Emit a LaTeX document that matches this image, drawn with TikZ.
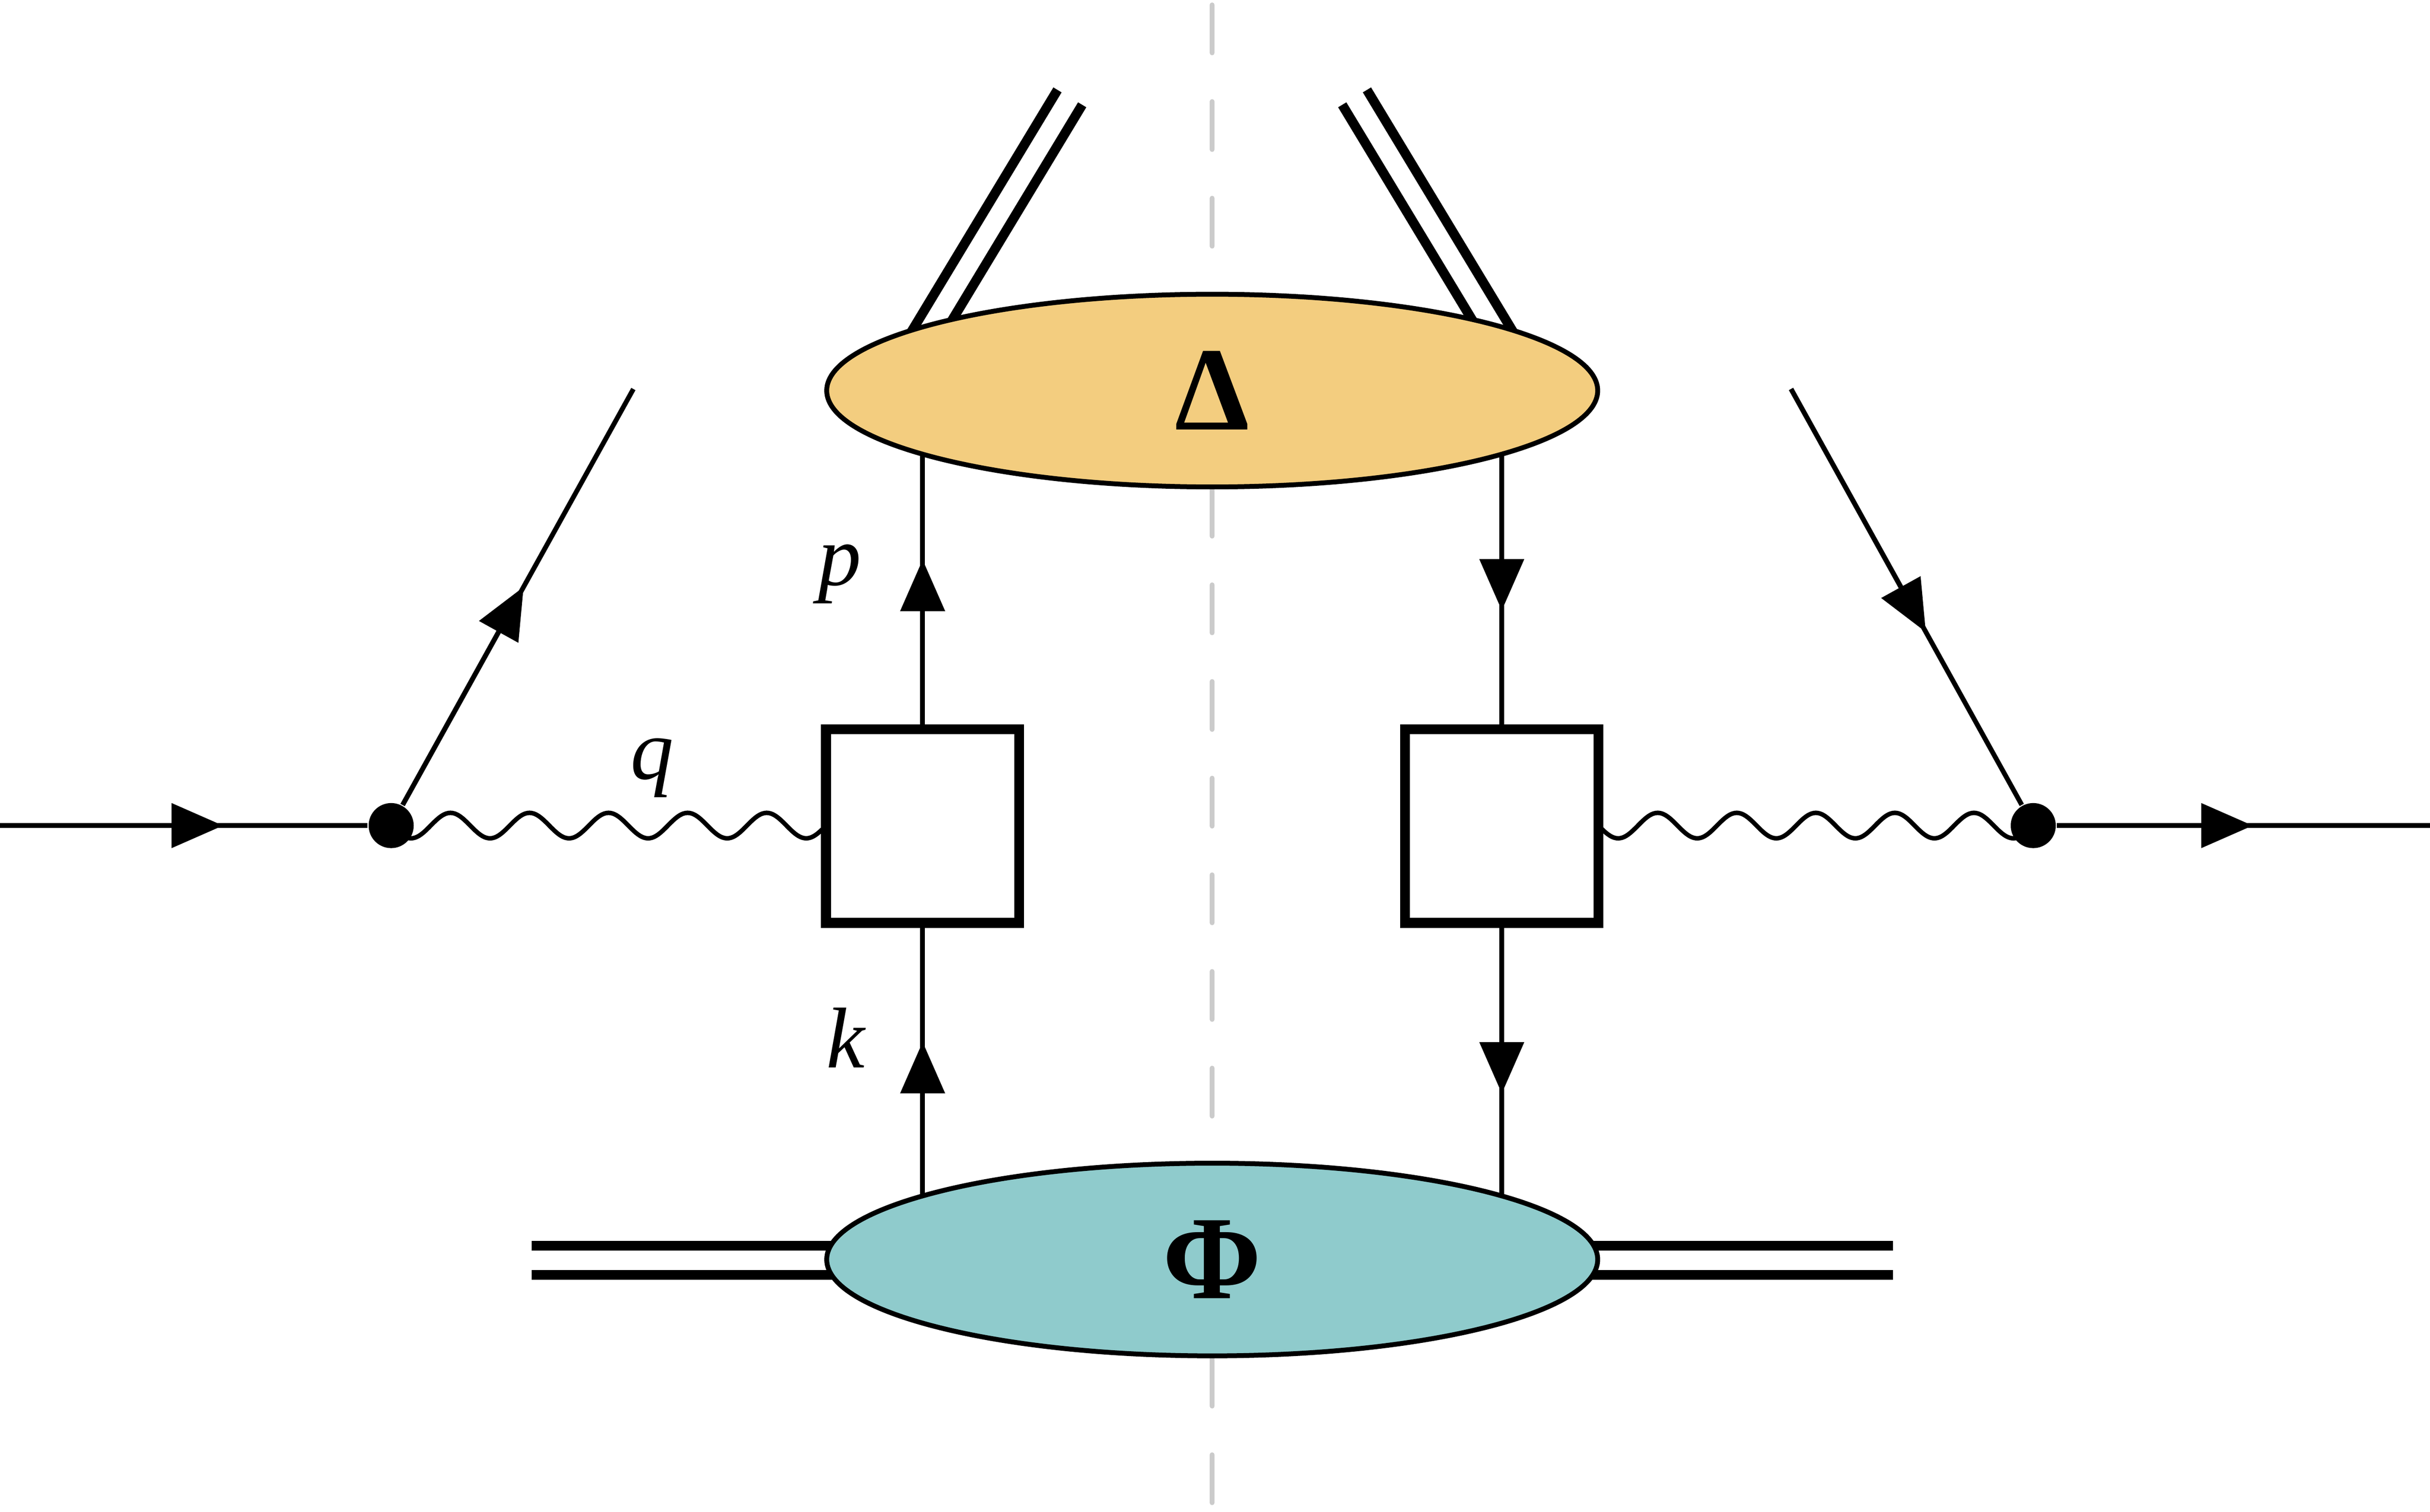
\documentclass[tikz,border=0pt]{standalone}
\usepackage{fontspec}
\setmainfont{Liberation Serif}
\usetikzlibrary{arrows.meta,shapes.geometric,backgrounds}
\definecolor{deltafill}{HTML}{F3CD7F}
\definecolor{phifill}{HTML}{8FCBCC}
\definecolor{cutgray}{HTML}{CBCBCB}
\tikzset{
  fline/.style={line width=0.88pt},
  farrow/.style={fline,-{Triangle[length=3.3mm,width=2.9mm,line width=0pt]}},
  photon/.style={line width=0.82pt},
  blob/.style={ellipse, draw, line width=0.89pt, minimum width=49.6mm, minimum height=12.4mm, inner sep=0pt, font=\fontsize{21.8pt}{26pt}\selectfont\bfseries},
  hardbox/.style={rectangle, draw, fill=white, line width=1.79pt, minimum width=12.44mm, minimum height=12.46mm, inner sep=0pt},
  vertexdot/.style={circle, fill=black, minimum size=2.9mm, inner sep=0pt},
  dbl/.style={line width=1.76pt},
  cut/.style={cutgray, line width=0.88pt, line cap=round, dash pattern=on 3.09mm off 3.13mm},
  mom/.style={font=\fontsize{15.8pt}{19pt}\selectfont\itshape, inner sep=0pt},
}
\begin{document}
\begin{tikzpicture}[x=0.01cm, y=-0.01cm]
\useasboundingbox (0,0) rectangle (1564.2,973.4);
% blobs and boxes
\node[blob, fill=deltafill] (D) at (780.3,251.5) {Δ};
\node[blob, fill=phifill] (F) at (780.3,811) {Φ};
\node[hardbox] (BL) at (593.9,531.9) {};
\node[hardbox] (BR) at (966.7,531.9) {};
\node[vertexdot] (VL) at (251.8,531.6) {};
\node[vertexdot] (VR) at (1308.8,531.6) {};
% coordinates
\coordinate (inL) at (0,531.6);
\coordinate (outR) at (1564.2,531.6);
\coordinate (eL) at (407.7,250.5);
\coordinate (eR) at (1152.9,250.5);
\coordinate (tipIn) at (143.5,531.6);
\coordinate (tipOut) at (1450.0,531.6);
\coordinate (tipLd) at (337.0,378.0);
\coordinate (tipRd) at (1239.6,406.9);
\coordinate (tipLu) at (593.9,360.5);
\coordinate (tipRu) at (966.7,393.0);
\coordinate (tipLk) at (593.9,671.0);
\coordinate (tipRk) at (966.7,704.0);
\coordinate (dLa) at (342.1,802.1);
\coordinate (dLb) at (342.1,820.9);
\coordinate (dRa) at (1218.5,802.1);
\coordinate (dRb) at (1218.5,820.9);
\coordinate (tLo) at (680.7,57.9);
\coordinate (tLoE) at (563.5,252);
\coordinate (tLi) at (696.6,67.5);
\coordinate (tLiE) at (585.2,252);
\coordinate (tRo) at (879.9,57.9);
\coordinate (tRoE) at (997.1,252);
\coordinate (tRi) at (864.0,67.5);
\coordinate (tRiE) at (975.4,252);
\begin{scope}[on background layer]
  \draw[cut] (780.3,3.15) -- (780.3,973.4);
  \draw[dbl] (dLa) -- (dLa -| F.center);
  \draw[dbl] (dLb) -- (dLb -| F.center);
  \draw[dbl] (dRa) -- (dRa -| F.center);
  \draw[dbl] (dRb) -- (dRb -| F.center);
  \draw[dbl] (tLo) -- (tLoE);
  \draw[dbl] (tLi) -- (tLiE);
  \draw[dbl] (tRo) -- (tRoE);
  \draw[dbl] (tRi) -- (tRiE);
  % quark lines
  \draw[fline] (BL.north) -- (BL.north |- D.center);
  \draw[farrow] (BL.north) -- (tipLu);
  \draw[fline] (BR.north |- D.center) -- (BR.north);
  \draw[farrow] (BR.north |- D.center) -- (tipRu);
  \draw[fline] (BL.south |- F.center) -- (BL.south);
  \draw[farrow] (BL.south |- F.center) -- (tipLk);
  \draw[fline] (BR.south) -- (BR.south |- F.center);
  \draw[farrow] (BR.south) -- (tipRk);
\end{scope}
% external lepton lines
\draw[fline] (inL) -- (VL);
\draw[farrow] (inL) -- (tipIn);
\draw[fline] (VR) -- (outR);
\draw[farrow] (VR) -- (tipOut);
\draw[fline] (VL) -- (eL);
\draw[farrow] (VL) -- (tipLd);
\draw[fline] (eR) -- (VR);
\draw[farrow] (eR) -- (tipRd);
% photons
\draw[photon] plot[domain=0:5.5, samples=221, smooth, variable=\t] ({251.8+\t*50.89}, {531.6+8.2*sin(\t*360)});
\draw[photon] plot[domain=0:5.5, samples=221, smooth, variable=\t] ({1308.8-\t*50.89}, {531.6+8.2*sin(\t*360)});
% labels
\node[mom] (lp) at (540.7,369.8) {p};
\node[mom] (lq) at (419.7,494.4) {q};
\node[mom] (lk) at (544.2,668.3) {k};
\end{tikzpicture}
\end{document}
